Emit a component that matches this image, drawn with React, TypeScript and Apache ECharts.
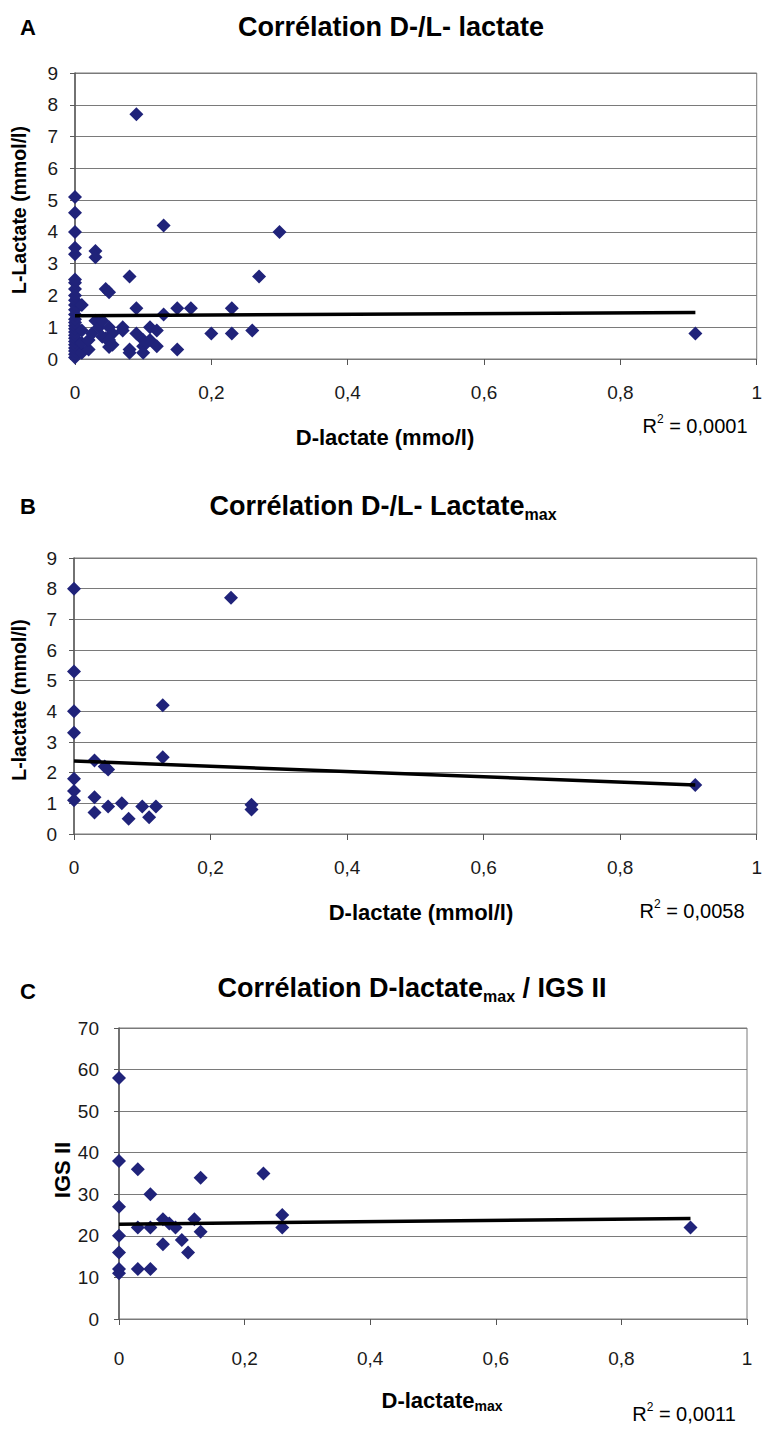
import React, { useEffect, useRef } from "react";
import * as echarts from "echarts";

// Panel A: D-lactate vs L-lactate (all samples)
const dLacA = [
  0, 0, 0, 0, 0, 0, 0, 0, 0, 0, 0, 0, 0, 0, 0, 0, 0, 0, 0, 0, 0, 0, 0, 0, 0, 0,
  0.01, 0.01, 0.01, 0.01, 0.02, 0.02, 0.025, 0.03, 0.03, 0.03, 0.035, 0.04, 0.04,
  0.045, 0.05, 0.045, 0.05, 0.055, 0.055, 0.05, 0.05, 0.07, 0.07, 0.08, 0.08, 0.08,
  0.09, 0.09, 0.09, 0.1, 0.1, 0.1, 0.11, 0.11, 0.12, 0.12, 0.13, 0.13, 0.15, 0.15,
  0.17, 0.2, 0.23, 0.23, 0.26, 0.27, 0.3, 0.91,
];
const lLacA = [
  0.05, 0.15, 0.25, 0.35, 0.45, 0.55, 0.65, 0.75, 0.85, 0.95, 1.05, 1.15, 1.25, 1.4,
  1.55, 1.7, 1.85, 2.0, 2.2, 2.4, 2.5, 3.3, 3.5, 4.0, 4.6, 5.1,
  1.7, 0.2, 0.5, 0.9, 0.3, 0.6, 0.8, 1.2, 3.4, 3.2, 1.0, 1.2, 0.7,
  2.2, 2.1, 0.65, 1.0, 0.8, 0.45, 0.6, 0.38, 1.0, 0.9, 2.6, 0.3, 0.2,
  7.7, 1.6, 0.8, 0.6, 0.4, 0.2, 1.0, 0.6, 0.9, 0.4, 4.2, 1.4, 1.6, 0.3,
  1.6, 0.8, 1.6, 0.8, 0.9, 2.6, 4.0, 0.8,
];
const trendA = [
  [0, 1.36],
  [0.91, 1.46],
];

// Panel B: D-lactate vs maximal L-lactate
const dLacB = [
  0, 0, 0, 0, 0, 0, 0, 0.03, 0.03, 0.03, 0.045, 0.05, 0.05, 0.07, 0.08, 0.1, 0.11,
  0.12, 0.13, 0.13, 0.23, 0.26, 0.26, 0.91,
];
const lLacB = [
  8.0, 5.3, 4.0, 3.3, 1.8, 1.4, 1.1, 2.4, 1.2, 0.7, 2.2, 2.1, 0.9, 1.0, 0.5, 0.9,
  0.55, 0.9, 4.2, 2.5, 7.7, 0.95, 0.8, 1.6,
];
const trendB = [
  [0, 2.38],
  [0.91, 1.6],
];

// Panel C: maximal D-lactate vs IGS II score
const dLacC = [
  0, 0, 0, 0, 0, 0, 0, 0.03, 0.03, 0.03, 0.05, 0.05, 0.05, 0.07, 0.07, 0.08, 0.09,
  0.1, 0.11, 0.12, 0.13, 0.13, 0.23, 0.26, 0.26, 0.91,
];
const igsC = [
  58, 38, 27, 20, 16, 12, 11, 36, 22, 12, 30, 22, 12, 24, 18, 23, 22, 19, 16, 24,
  34, 21, 35, 25, 22, 22,
];
const trendC = [
  [0, 22.8],
  [0.91, 24.2],
];

const xTicks = { min: 0, max: 1, interval: 0.2 };
const yTicksAB = { min: 0, max: 9, interval: 1 };
const yTicksC = { min: 0, max: 70, interval: 10 };
const r2Labels = ["0,0001", "0,0058", "0,0011"];

const FONT = "'Liberation Sans', Arial, Helvetica, sans-serif";
const GRID_GREY = "#7a7a7a";
const MARKER = "#20237a";

const pairs = (xs: number[], ys: number[]) => xs.map((x, i) => [x, ys[i]]);
const comma = (v: number) => String(Math.round(v * 10) / 10).replace(".", ",");

function xAxisFor(gridIndex: number, margin: number) {
  return {
    type: "value",
    gridIndex,
    ...xTicks,
    axisLine: { show: true, onZero: false, lineStyle: { color: GRID_GREY, width: 1 } },
    axisTick: { show: true, length: 6, lineStyle: { color: "#555", width: 1 } },
    splitLine: { show: false },
    axisLabel: {
      formatter: comma,
      fontSize: 19,
      fontFamily: FONT,
      color: "#1a1a1a",
      margin,
    },
  };
}

function yAxisFor(gridIndex: number, ticks: any, margin: number) {
  return {
    type: "value",
    gridIndex,
    ...ticks,
    axisLine: { show: true, onZero: false, lineStyle: { color: "#5a5a5a", width: 1.5 } },
    axisTick: { show: true, length: 5, lineStyle: { color: "#5a5a5a", width: 1 } },
    splitLine: { show: true, lineStyle: { color: GRID_GREY, width: 1 } },
    axisLabel: { fontSize: 19, fontFamily: FONT, color: "#1a1a1a", margin },
  };
}

function scatterFor(idx: number, data: number[][]) {
  return {
    type: "scatter",
    xAxisIndex: idx,
    yAxisIndex: idx,
    data,
    symbol: "diamond",
    symbolSize: 14,
    itemStyle: { color: MARKER, opacity: 1 },
    z: 2,
  };
}

function trendFor(idx: number, data: number[][]) {
  return {
    type: "line",
    xAxisIndex: idx,
    yAxisIndex: idx,
    data,
    showSymbol: false,
    symbol: "none",
    lineStyle: { color: "#000", width: 3.5 },
    z: 3,
  };
}

const titleRich = {
  t: { fontSize: 27, fontWeight: "bold", fontFamily: FONT, lineHeight: 32, color: "#000" },
  s: {
    fontSize: 16,
    fontWeight: "bold",
    fontFamily: FONT,
    lineHeight: 16,
    verticalAlign: "bottom",
    color: "#000",
  },
};
const nameRich = {
  t: { fontSize: 22, fontWeight: "bold", fontFamily: FONT, lineHeight: 26, color: "#000" },
  s: {
    fontSize: 14,
    fontWeight: "bold",
    fontFamily: FONT,
    lineHeight: 14,
    verticalAlign: "bottom",
    color: "#000",
  },
};
const r2Rich = {
  r: { fontSize: 20, fontFamily: FONT, lineHeight: 26, color: "#111" },
  p: { fontSize: 12, fontFamily: FONT, lineHeight: 12, verticalAlign: "top", color: "#111" },
};

function text(x: number, y: number, str: string, extra: any = {}) {
  return {
    type: "text",
    x,
    y,
    style: {
      text: str,
      align: "center",
      verticalAlign: "middle",
      fontFamily: FONT,
      fill: "#000",
      ...extra,
    },
  };
}

function vText(x: number, y: number, str: string, size: number) {
  return {
    type: "text",
    x,
    y,
    rotation: Math.PI / 2,
    style: {
      text: str,
      align: "center",
      verticalAlign: "middle",
      fontFamily: FONT,
      fontSize: size,
      fontWeight: "bold",
      fill: "#000",
    },
  };
}

export default function App() {
  const ref = useRef<HTMLDivElement>(null);

  useEffect(() => {
    if (!ref.current) return;
    const chart = echarts.init(ref.current, null, { renderer: "svg" });

    const gridBase = {
      show: true,
      borderColor: GRID_GREY,
      borderWidth: 1,
      backgroundColor: "transparent",
      containLabel: false,
    };

    chart.setOption({
      animation: false,
      backgroundColor: "#fff",
      grid: [
        { ...gridBase, left: 75, top: 73, width: 689, height: 286 },
        { ...gridBase, left: 74, top: 558, width: 689, height: 276 },
        { ...gridBase, left: 119, top: 1028, width: 628, height: 291 },
      ],
      xAxis: [xAxisFor(0, 24), xAxisFor(1, 24), xAxisFor(2, 30)],
      yAxis: [yAxisFor(0, yTicksAB, 17), yAxisFor(1, yTicksAB, 17), yAxisFor(2, yTicksC, 20)],
      series: [
        scatterFor(0, pairs(dLacA, lLacA)),
        trendFor(0, trendA),
        scatterFor(1, pairs(dLacB, lLacB)),
        trendFor(1, trendB),
        scatterFor(2, pairs(dLacC, igsC)),
        trendFor(2, trendC),
      ],
      graphic: [
        // panel letters
        text(28, 27, "A", { fontSize: 22, fontWeight: "bold" }),
        text(28, 506, "B", { fontSize: 22, fontWeight: "bold" }),
        text(28, 991, "C", { fontSize: 22, fontWeight: "bold" }),
        // titles
        text(391, 27, "{t|Corrélation D-/L- lactate}", { rich: titleRich }),
        text(383, 506, "{t|Corrélation D-/L- Lactate}{s|max}", { rich: titleRich }),
        text(412, 988, "{t|Corrélation D-lactate}{s|max}{t| / IGS II}", { rich: titleRich }),
        // y axis names
        vText(19, 210, "L-Lactate (mmol/l)", 19.5),
        vText(19, 700, "L-lactate (mmol/l)", 19.5),
        vText(62, 1170, "IGS II", 22),
        // x axis names
        text(385, 437, "D-lactate (mmo/l)", { fontSize: 22, fontWeight: "bold" }),
        text(421, 912, "D-lactate (mmol/l)", { fontSize: 22, fontWeight: "bold" }),
        text(442, 1400, "{t|D-lactate}{s|max}", { rich: nameRich }),
        // R² annotations
        text(695, 426, "{r|R}{p|2}{r| = " + r2Labels[0] + "}", { rich: r2Rich }),
        text(692, 911, "{r|R}{p|2}{r| = " + r2Labels[1] + "}", { rich: r2Rich }),
        text(684, 1414, "{r|R}{p|2}{r| = " + r2Labels[2] + "}", { rich: r2Rich }),
      ],
    });

    return () => chart.dispose();
  }, []);

  return (
    <div
      ref={ref}
      style={{ position: "absolute", left: 0, top: 0, width: 765, height: 1429, background: "#fff" }}
    />
  );
}
